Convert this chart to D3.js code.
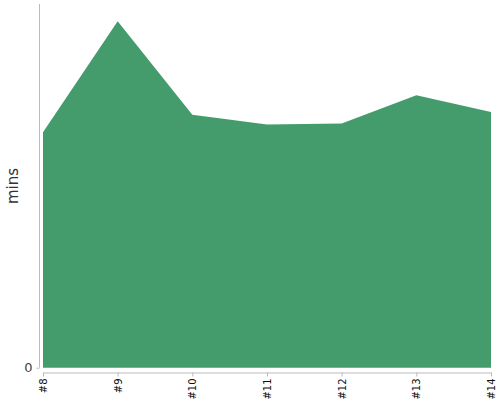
<!DOCTYPE html>
<html><head><meta charset="utf-8">
<script src="https://cdn.jsdelivr.net/npm/d3@7"></script>
<style>body{margin:0;background:#fff}svg{display:block;font-family:"DejaVu Sans",sans-serif}</style>
</head><body>
<svg id="c" width="500" height="400"></svg>
<script>
const categories = ["#8","#9","#10","#11","#12","#13","#14"];
const minutes = [24.75, 36.4, 26.57, 25.56, 25.66, 28.63, 26.88];
const yTicks = [0];

(function () {
const svg = d3.select("#c");
const pl = 43, pr = 491, pt = 4, pb = 367.7;
const x = d3.scalePoint().domain(categories).range([pl, pr]);
const y = d3.scaleLinear().domain([0, d3.max(minutes) * 1.05]).range([pb, pt]);

const area = d3.area().x((d, i) => x(categories[i])).y0(y(0)).y1(d => y(d));
svg.append("path").datum(minutes).attr("d", area).attr("fill", "#449b6c");

const yAxis = svg.append("g").attr("transform", "translate(39.5,0)")
  .call(d3.axisLeft(y).tickValues(yTicks).tickSize(3).tickPadding(4));
yAxis.select(".domain").attr("d", `M0,${pt}V${pb}`).attr("stroke", "#bbb");
yAxis.selectAll(".tick line").attr("stroke", "#bbb");
yAxis.selectAll(".tick text").attr("font-size", 13).attr("fill", "#444").attr("font-family", "DejaVu Sans");

const xAxis = svg.append("g").attr("transform", "translate(0,372.5)")
  .call(d3.axisBottom(x).tickSize(4).tickSizeOuter(0));
xAxis.select(".domain").attr("stroke", "#bbb");
xAxis.selectAll(".tick line").attr("stroke", "#bbb");
xAxis.selectAll(".tick text").attr("font-size", 10).attr("fill", "#111")
  .attr("font-family", "DejaVu Sans")
  .attr("transform", "rotate(-90)").attr("text-anchor", "end")
  .attr("x", -6).attr("y", 0).attr("dy", "0.35em");

svg.append("text").attr("transform", "translate(18,186) rotate(-90)")
  .attr("text-anchor", "middle").attr("font-size", 15).attr("fill", "#333")
  .attr("font-family", "DejaVu Sans").text("mins");
})();
</script>
</body></html>
